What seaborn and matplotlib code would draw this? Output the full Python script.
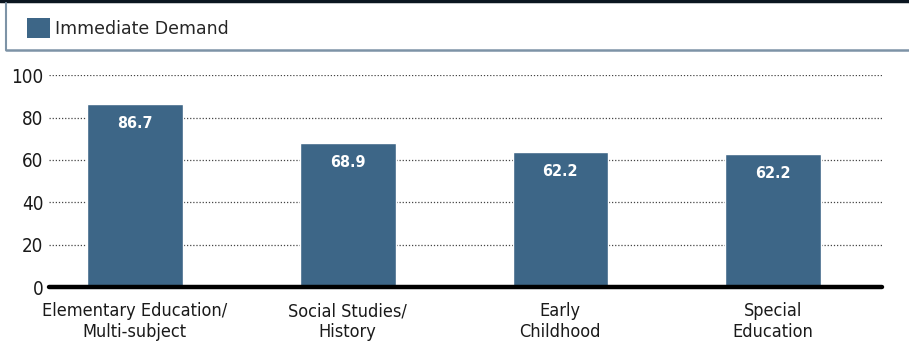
import matplotlib
matplotlib.use("Agg")
import matplotlib.pyplot as plt
import seaborn as sns
from matplotlib.lines import Line2D
from matplotlib.patches import Patch

# 数据
categories = ["Elementary Education/\nMulti-subject", "Social Studies/\nHistory",
              "Early\nChildhood", "Special\nEducation"]
values = [86.3, 68.0, 63.6, 62.6]
value_labels = ["86.7", "68.9", "62.2", "62.2"]
series_name = "Immediate Demand"
y_ticks = [0, 20, 40, 60, 80, 100]

bar_color = "#3d6687"

sns.set_style("white")
plt.rcParams['font.family'] = ['DejaVu Sans']
plt.rcParams['font.stretch'] = 'condensed'

fig = plt.figure(figsize=(9.09, 3.43), dpi=100)
ax = fig.add_axes([0.0539, 0.163, 0.9164, 0.618])

sns.barplot(x=categories, y=values, color=bar_color, width=0.45,
            saturation=1, ax=ax)

ax.set_xlim(-0.404, 3.512)
ax.set_ylim(0, 100)
ax.set_yticks(y_ticks)
ax.set_yticklabels([str(t) for t in y_ticks], fontsize=13.5, color="#1a1a1a")
ax.tick_params(axis="y", length=0, pad=4)
ax.tick_params(axis="x", length=0, pad=11, labelsize=13, labelcolor="#1a1a1a")
for lab in ax.get_xticklabels():
    lab.set_linespacing(1.2)
ax.set_xlabel("")
ax.set_ylabel("")

for s in ax.spines.values():
    s.set_visible(False)

# 虚线网格
for t in y_ticks[1:]:
    ax.axhline(t, color="#444444", lw=0.9, ls=(0, (1, 1.5)), zorder=0)
ax.axhline(0, color="black", lw=3.2, zorder=5, clip_on=False)

# 数值标签
for i, (v, lab) in enumerate(zip(values, value_labels)):
    ax.text(i, v - 9.0, lab, ha="center", va="center", color="white",
            fontsize=11.5, fontweight="bold")

# 顶部线条和图例框
fig.add_artist(Line2D([0, 1], [0.997, 0.997], color="#0b1620", lw=2.5,
                      transform=fig.transFigure))
fig.add_artist(Line2D([0.0066, 1], [0.853, 0.853], color="#7d93a6", lw=1.8,
                      transform=fig.transFigure))
fig.add_artist(Line2D([0.0066, 0.0066], [0.853, 0.99], color="#7d93a6", lw=1.5,
                      transform=fig.transFigure))

handle = Patch(facecolor=bar_color, edgecolor="none")
fig.legend([handle], [series_name], loc="center left",
           bbox_to_anchor=(0.0297, 0.918), frameon=False,
           prop={"family": "DejaVu Sans", "stretch": "normal", "size": 12.5},
           handlelength=1.3, handleheight=1.45, handletextpad=0.3,
           borderpad=0, borderaxespad=0)

fig.savefig("out.png", dpi=100)
